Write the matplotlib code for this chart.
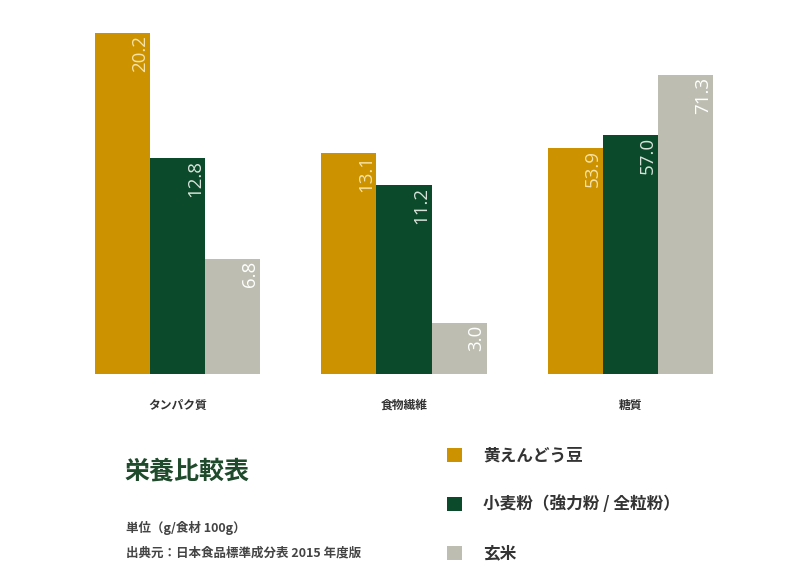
import matplotlib
matplotlib.use("Agg")
import matplotlib.pyplot as plt
import numpy as np

plt.rcParams['font.family'] = ['Noto Sans CJK JP', 'DejaVu Sans']

categories = ["タンパク質", "食物繊維", "糖質"]
series_names = ["黄えんどう豆", "小麦粉（強力粉 / 全粒粉）", "玄米"]
pea = [20.2, 13.1, 53.9]
wheat = [12.8, 11.2, 57.0]
rice = [6.8, 3.0, 71.3]
# the sugar group is drawn on its own (compressed) scale in the original
group_scale = [1.0, 1.0, 0.2484]

colors = ["#CC9200", "#0B4A2A", "#BDBDB1"]
label_colors = ["#F6E3A8", "#D8E3DA", "#FFFFFF"]

fig = plt.figure(figsize=(8.12, 5.79), dpi=100)
W, H = 812, 579
ax = fig.add_axes([95 / W, (579 - 374) / H, 618 / W, 354 / H])

x = np.arange(len(categories))
bw = 0.243
series = [pea, wheat, rice]
bars_all = []
for i, vals in enumerate(series):
    heights = [v * s for v, s in zip(vals, group_scale)]
    bars = ax.bar(x + (i - 1) * bw, heights, width=bw, color=colors[i],
                  label=series_names[i], linewidth=0)
    bars_all.append(bars)
    for b, v in zip(bars, vals):
        ax.text(b.get_x() + b.get_width() - 0.004, b.get_height() - 0.1,
                f"{v:.1f}", rotation=90, ha='right', va='top',
                fontsize=13.5, color=label_colors[i], family=['Open Sans', 'DejaVu Sans'])

ax.set_xlim(-1.5 * bw, 2 + 1.5 * bw)
ax.set_ylim(0, 354 / 16.88)
for s in ax.spines.values():
    s.set_visible(False)
ax.set_yticks([])
ax.set_xticks(x)
ax.set_xticklabels(categories, fontsize=8.5, fontweight='bold', color='#333333')
ax.tick_params(axis='x', length=0, pad=18)

fig.text(125 / W, 1 - 471 / H, "栄養比較表", fontsize=18, fontweight='bold',
         color='#1F4A2C', va='center', ha='left')
fig.text(126 / W, 1 - 528 / H, "単位（g/食材 100g）", fontsize=9, fontweight='bold',
         color='#444444', va='center', ha='left')
fig.text(126 / W, 1 - 553 / H, "出典元：日本食品標準成分表 2015 年度版", fontsize=9,
         fontweight='bold', color='#444444', va='center', ha='left')

leg = fig.legend(handles=[b[0] for b in bars_all], labels=series_names,
                 loc='upper left', bbox_to_anchor=(435 / W, 1 - 435 / H),
                 frameon=False, fontsize=12, handlelength=0.9, handleheight=0.9,
                 handletextpad=1.3, labelspacing=1.85, borderpad=0.2)
for t in leg.get_texts():
    t.set_fontweight('bold')
    t.set_color('#333333')

fig.savefig("out.png", dpi=100, facecolor='white')
